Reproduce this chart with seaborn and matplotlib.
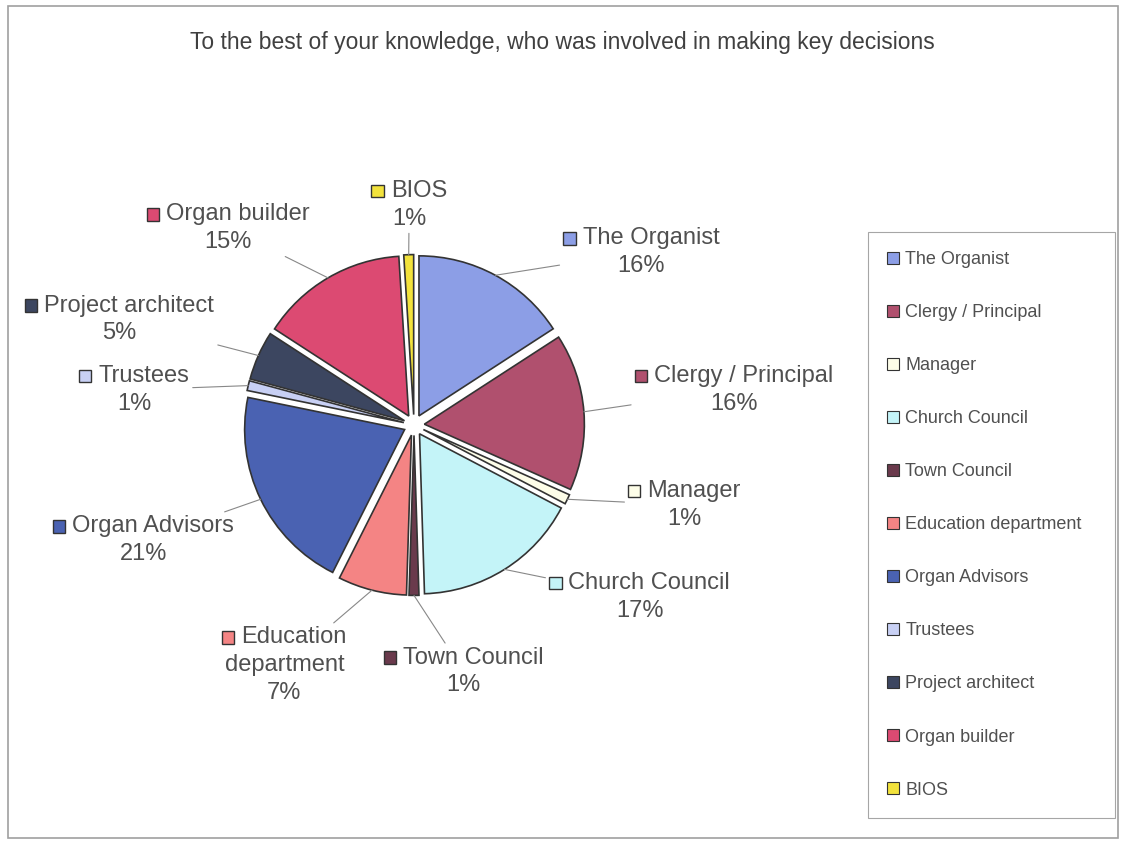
import matplotlib
matplotlib.use("Agg")
import matplotlib.pyplot as plt
import matplotlib.patches as mpatches
from matplotlib.offsetbox import AnnotationBbox, DrawingArea, HPacker, VPacker, TextArea
import numpy as np
import seaborn as sns

# ── Data ───────────────────────────────────────────────────────────────────────
TITLE = "To the best of your knowledge, who was involved in making key decisions"
categories = ["The Organist", "Clergy / Principal", "Manager", "Church Council",
              "Town Council", "Education department", "Organ Advisors", "Trustees",
              "Project architect", "Organ builder", "BIOS"]
shares = [16, 16, 1, 17, 1, 7, 21, 1, 5, 15, 1]   # percent, as printed
colors = ["#8c9ee6", "#b0506e", "#fdfde8", "#c4f4f8", "#6a3a4c", "#f48484",
          "#4a62b2", "#c8d0f4", "#3c4660", "#dc4a72", "#f2e23c"]

# label placement (pie radius = 1, centre at 0,0)
label_pos = [(1.42, 1.08), (2.00, 0.22), (1.69, -0.50), (1.41, -1.075),
             (0.31, -1.54), (-0.81, -1.50), (-1.69, -0.72), (-1.75, 0.22),
             (-1.84, 0.66), (-1.16, 1.23), (-0.03, 1.375)]

TEXT_COL = "#505050"
EDGE_COL = "#333333"

sns.set_theme(style="white")
plt.rcParams["font.family"] = ["Liberation Sans", "DejaVu Sans"]

W, H = 1124, 844
R_PX = 160.0
CX, CY = 414, 425

fig = plt.figure(figsize=(W / 100, H / 100), dpi=100)
fig.patch.set_facecolor("white")
ax = fig.add_axes([0, 0, 1, 1])

wedges, _ = ax.pie(shares, colors=colors, startangle=90, counterclock=False,
                   explode=[0.065] * len(shares), radius=1.0,
                   wedgeprops=dict(edgecolor=EDGE_COL, linewidth=1.2))
ax.set_xlim(-CX / R_PX, (W - CX) / R_PX)
ax.set_ylim(-(H - CY) / R_PX, CY / R_PX)
ax.set_aspect("equal", adjustable="datalim")
ax.axis("off")

for w, name, val, pos, col in zip(wedges, categories, shares, label_pos, colors):
    mid = np.deg2rad((w.theta1 + w.theta2) / 2)
    edge = (w.center[0] + w.r * np.cos(mid), w.center[1] + w.r * np.sin(mid))

    lines = name.split(" ", 1) if name == "Education department" else [name]
    sq = DrawingArea(9, 9, 0, 0)
    sq.add_artist(mpatches.Rectangle((0, 0), 9, 9, facecolor=col,
                                     edgecolor=EDGE_COL, linewidth=1))
    tprops = dict(color=TEXT_COL, fontsize=17)
    first = HPacker(children=[sq, TextArea(lines[0], textprops=tprops)],
                    align="center", pad=0, sep=5)
    rows = [first] + [TextArea(l, textprops=tprops) for l in lines[1:]]
    rows.append(TextArea(f"{val}%", textprops=tprops))
    box = VPacker(children=rows, align="center", pad=0, sep=4)

    ab = AnnotationBbox(box, edge, xybox=pos, xycoords="data", boxcoords="data",
                        frameon=False, pad=0.2,
                        arrowprops=dict(arrowstyle="-", color="#888888", lw=0.8,
                                        shrinkA=0, shrinkB=0))
    ax.add_artist(ab)

fig.text(0.5, 1 - 43 / H, TITLE, ha="center", va="center", fontsize=16.5,
         color="#404040")

handles = [mpatches.Patch(facecolor=c, edgecolor=EDGE_COL, linewidth=0.8) for c in colors]
leg = fig.legend(handles, categories, loc="upper left",
                 bbox_to_anchor=(868 / W, 1 - 818 / H, 247 / W, (818 - 232) / H),
                 mode="expand", fontsize=13, frameon=True, fancybox=False,
                 edgecolor="#909090", labelspacing=1.995, handlelength=0.65,
                 handleheight=0.65, handletextpad=0.35, borderpad=1.07,
                 borderaxespad=0)
leg.get_frame().set_linewidth(0.8)
for t in leg.get_texts():
    t.set_color(TEXT_COL)

fig.patches.append(mpatches.Rectangle((8 / W, 6 / H), 1110 / W, 832 / H,
                                      transform=fig.transFigure, fill=False,
                                      edgecolor="#a0a0a0", linewidth=1.2))

fig.savefig("out.png", dpi=100, facecolor="white")
